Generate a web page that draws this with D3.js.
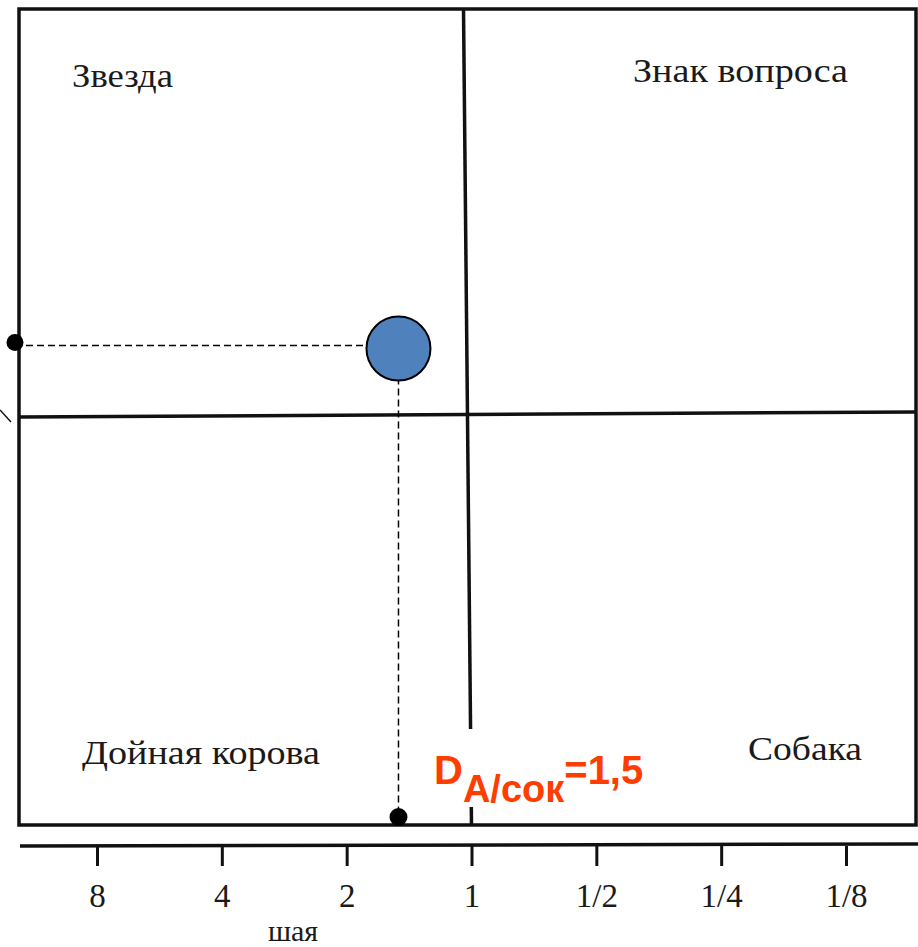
<!DOCTYPE html>
<html>
<head>
<meta charset="utf-8">
<script src="https://cdn.jsdelivr.net/npm/d3@7"></script>
<style>
  html, body { margin: 0; padding: 0; background: #fff; }
  svg { display: block; }
</style>
</head>
<body>
<svg id="chart" width="918" height="947"></svg>
<script>
// ---- data ----
const shareTicks = [8, 4, 2, 1, 1/2, 1/4, 1/8];
const shareTickLabels = ["8", "4", "2", "1", "1/2", "1/4", "1/8"];
const quadrantNames = ["Звезда", "Знак вопроса", "Дойная корова", "Собака"];
const relativeShare = [1.5];      // D A/сок
const marketGrowth = [11.75];     // position on growth axis (0..20, midpoint 10)
const growthDomain = [0, 20];
const growthMid = 10;
const shareMid = 1;
const labelParts = ["D", "А/сок", "=1,5"];
const axisCaption = "шая";

// ---- layout ----
const svg = d3.select("#chart");
const ink = "#111";
const box = { left: 19, right: 916, top: 9, bottom: 825 };

const x = d3.scaleLog().base(2).domain([8, 1/8]).range([97, 846]);
const y = d3.scaleLinear().domain(growthDomain).range([box.bottom, box.top]);

// outer box
svg.append("rect")
  .attr("x", box.left).attr("y", box.top)
  .attr("width", box.right - box.left).attr("height", box.bottom - box.top)
  .attr("fill", "none").attr("stroke", ink).attr("stroke-width", 3.5);

// quadrant dividers
svg.append("line")
  .attr("x1", x(shareMid) - 8).attr("x2", x(shareMid))
  .attr("y1", box.top).attr("y2", box.bottom)
  .attr("stroke", ink).attr("stroke-width", 3.5);
svg.append("line")
  .attr("x1", box.left).attr("x2", box.right)
  .attr("y1", y(growthMid)).attr("y2", y(growthMid) - 5)
  .attr("stroke", ink).attr("stroke-width", 3.5);

// stray stroke at left
svg.append("line")
  .attr("x1", 0).attr("y1", 410).attr("x2", 11).attr("y2", 422)
  .attr("stroke", ink).attr("stroke-width", 1.5);

// quadrant labels
const serif = "'Liberation Serif', 'DejaVu Serif', serif";
const qPos = [
  { x: 72, y: 87, w: 101 },
  { x: 633, y: 82, w: 215 },
  { x: 82, y: 764, w: 238 },
  { x: 748, y: 760, w: 114 }
];
svg.selectAll("text.quad").data(quadrantNames).join("text")
  .attr("class", "quad")
  .attr("x", (d, i) => qPos[i].x).attr("y", (d, i) => qPos[i].y)
  .attr("textLength", (d, i) => qPos[i].w)
  .attr("lengthAdjust", "spacingAndGlyphs")
  .attr("font-family", serif).attr("font-size", 33)
  .attr("fill", "#1a1a1a")
  .text(d => d);

// white patch behind red label
svg.append("rect")
  .attr("x", 426).attr("y", 729).attr("width", 236).attr("height", 78)
  .attr("fill", "#fff");

// dashed guides
const px = x(relativeShare[0]);
const py = y(marketGrowth[0]);
const r = 32;
svg.append("line")
  .attr("x1", 15).attr("y1", py).attr("x2", px - r).attr("y2", py)
  .attr("stroke", "#000").attr("stroke-width", 1.5)
  .attr("stroke-dasharray", "7,4");
svg.append("line")
  .attr("x1", px).attr("y1", py + r).attr("x2", px).attr("y2", box.bottom - 8)
  .attr("stroke", "#000").attr("stroke-width", 1.5)
  .attr("stroke-dasharray", "7,4");

// axis projection dots
svg.append("circle").attr("cx", 15).attr("cy", py - 3).attr("r", 8.5).attr("fill", "#000");
svg.append("circle").attr("cx", px).attr("cy", box.bottom - 8).attr("r", 9).attr("fill", "#000");

// bubble
svg.selectAll("circle.bubble").data(relativeShare).join("circle")
  .attr("class", "bubble")
  .attr("cx", d => x(d)).attr("cy", (d, i) => y(marketGrowth[i]) + 3)
  .attr("r", r)
  .attr("fill", "#4F81BD").attr("stroke", "#000").attr("stroke-width", 2);

// red label
const red = "#ff3d00";
const sans = "'Liberation Sans', Arial, sans-serif";
const lbl = svg.append("text")
  .attr("x", 434).attr("y", 784)
  .attr("font-family", sans).attr("font-weight", "bold")
  .attr("font-size", 40).attr("fill", red);
lbl.append("tspan").text(labelParts[0]);
lbl.append("tspan").attr("dy", 18).attr("font-size", 38).text(labelParts[1]);
lbl.append("tspan").attr("dy", -18).text(labelParts[2]);

// bottom axis
const axisY = 846;
svg.append("line")
  .attr("x1", 20).attr("x2", 918).attr("y1", axisY).attr("y2", axisY - 2)
  .attr("stroke", ink).attr("stroke-width", 3.5);
const axis = d3.axisBottom(x)
  .tickValues(shareTicks)
  .tickFormat((d, i) => shareTickLabels[i])
  .tickSize(20);
const gAxis = svg.append("g").attr("transform", `translate(0,${axisY})`).call(axis);
gAxis.select(".domain").remove();
gAxis.selectAll(".tick line").attr("stroke", ink).attr("stroke-width", 3);
gAxis.selectAll(".tick text")
  .attr("y", 61).attr("dy", 0)
  .attr("font-family", serif).attr("font-size", 33)
  .attr("fill", "#1a1a1a");

// axis caption fragment
svg.append("text")
  .attr("x", 293).attr("y", 941)
  .attr("text-anchor", "middle")
  .attr("font-family", serif).attr("font-size", 30)
  .attr("fill", "#1a1a1a")
  .text(axisCaption);
</script>
</body>
</html>
